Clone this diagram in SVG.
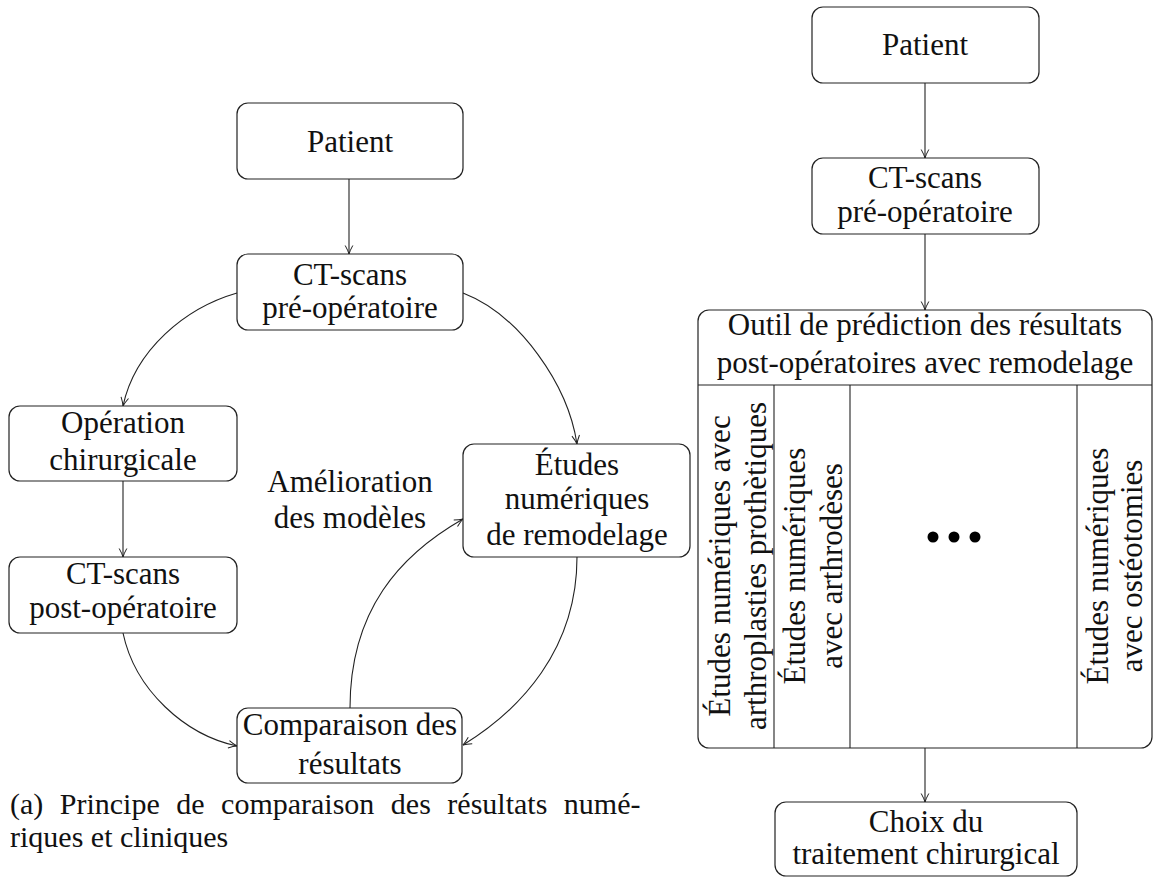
<svg xmlns="http://www.w3.org/2000/svg" width="1153" height="877" viewBox="0 0 1153 877">
<style>
.box{fill:#fff;stroke:#222;stroke-width:1.2}
.ln{fill:none;stroke:#222;stroke-width:1.1}
text{font-family:'Liberation Serif','DejaVu Serif',serif;fill:#111}
.t{font-size:31px;text-anchor:middle}
.cap{font-size:30px}
</style>
<defs>
<marker id="arr" viewBox="0 0 10 10" refX="9.5" refY="5" markerWidth="10" markerHeight="10" markerUnits="userSpaceOnUse" orient="auto">
<path d="M1,1.2 Q6,4 9.5,5 Q6,6 1,8.8" fill="none" stroke="#222" stroke-width="1"/>
</marker>
</defs>
<rect width="1153" height="877" fill="#fff"/>

<g id="connectors">
<path class="ln" d="M349,179 L349,254" marker-end="url(#arr)"/>
<path class="ln" d="M237,293 C185,308 135,350 123,406" marker-end="url(#arr)"/>
<path class="ln" d="M463,293 C520,315 568,385 577,444" marker-end="url(#arr)"/>
<path class="ln" d="M123,481 L123,557" marker-end="url(#arr)"/>
<path class="ln" d="M123,633 C135,690 185,735 237,746" marker-end="url(#arr)"/>
<path class="ln" d="M577,557 C577,650 520,710 463,745" marker-end="url(#arr)"/>
<path class="ln" d="M350,708 C350,610 400,555 463,519" marker-end="url(#arr)"/>
<path class="ln" d="M925,83 L925,158" marker-end="url(#arr)"/>
<path class="ln" d="M925,234 L925,310" marker-end="url(#arr)"/>
<path class="ln" d="M925,748 L925,802" marker-end="url(#arr)"/>
</g>

<g id="patient-a">
<rect class="box" x="237" y="103" width="226" height="76" rx="11"/>
<text class="t" x="350" y="152">Patient</text>
</g>
<g id="ct-pre-a">
<rect class="box" x="237" y="254" width="226" height="76" rx="11"/>
<text class="t" x="350" y="285">CT-scans</text>
<text class="t" x="350" y="318">pré-opératoire</text>
</g>
<g id="operation">
<rect class="box" x="9" y="406" width="228" height="75" rx="11"/>
<text class="t" x="123" y="433">Opération</text>
<text class="t" x="123" y="470">chirurgicale</text>
</g>
<g id="ct-post">
<rect class="box" x="9" y="557" width="228" height="76" rx="11"/>
<text class="t" x="123" y="584">CT-scans</text>
<text class="t" x="123" y="618">post-opératoire</text>
</g>
<g id="etudes">
<rect class="box" x="463" y="444" width="227" height="113" rx="11"/>
<text class="t" x="577" y="475">Études</text>
<text class="t" x="577" y="509">numériques</text>
<text class="t" x="577" y="545">de remodelage</text>
</g>
<g id="comparaison">
<rect class="box" x="237" y="708" width="225" height="75" rx="11"/>
<text class="t" x="350" y="735">Comparaison des</text>
<text class="t" x="350" y="774">résultats</text>
</g>
<g id="amelioration">
<text class="t" x="350" y="492">Amélioration</text>
<text class="t" x="350" y="528">des modèles</text>
</g>
<g id="caption">
<text class="cap" x="10" y="814" word-spacing="9">(a) Principe de comparaison des résultats numé-</text>
<text class="cap" x="10" y="847">riques et cliniques</text>
</g>

<g id="patient-b">
<rect class="box" x="812" y="7" width="227" height="76" rx="11"/>
<text class="t" x="925" y="55">Patient</text>
</g>
<g id="ct-pre-b">
<rect class="box" x="812" y="158" width="227" height="76" rx="11"/>
<text class="t" x="925" y="188">CT-scans</text>
<text class="t" x="925" y="222">pré-opératoire</text>
</g>
<g id="outil">
<rect class="box" x="698" y="310" width="454" height="438" rx="11"/>
<line class="ln" x1="698" y1="385" x2="1152" y2="385"/>
<line class="ln" x1="774" y1="385" x2="774" y2="748"/>
<line class="ln" x1="850" y1="385" x2="850" y2="748"/>
<line class="ln" x1="1077" y1="385" x2="1077" y2="748"/>
<text class="t" x="925" y="335">Outil de prédiction des résultats</text>
<text class="t" x="925" y="373">post-opératoires avec remodelage</text>
<text class="t" transform="translate(730,566) rotate(-90)">Études numériques avec</text>
<text class="t" transform="translate(766,566) rotate(-90)">arthroplasties prothètiques</text>
<text class="t" transform="translate(805,566) rotate(-90)">Études numériques</text>
<text class="t" transform="translate(842,566) rotate(-90)">avec arthrodèses</text>
<text class="t" transform="translate(1108,566) rotate(-90)">Études numériques</text>
<text class="t" transform="translate(1142,566) rotate(-90)">avec ostéotomies</text>
<circle cx="933" cy="537" r="5.5" fill="#000"/>
<circle cx="954" cy="537" r="5.5" fill="#000"/>
<circle cx="975" cy="537" r="5.5" fill="#000"/>
</g>
<g id="choix">
<rect class="box" x="775" y="802" width="302" height="74" rx="11"/>
<text class="t" x="926" y="832">Choix du</text>
<text class="t" x="926" y="864">traitement chirurgical</text>
</g>
</svg>
